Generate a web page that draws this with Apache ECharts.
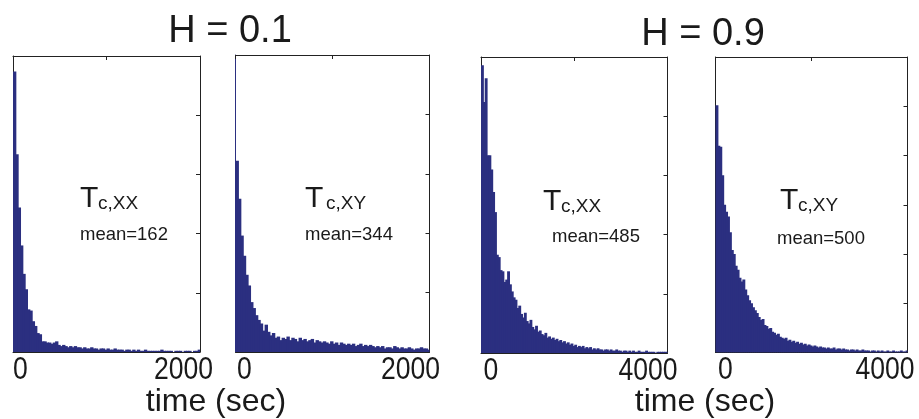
<!DOCTYPE html>
<html>
<head>
<meta charset="utf-8">
<script src="https://cdn.jsdelivr.net/npm/echarts@6/dist/echarts.min.js"></script>
<style>
html,body{margin:0;padding:0;background:#fff;}
#c{width:919px;height:419px;}
</style>
</head>
<body>
<div id="c"></div>
<script>
// ---------- data ----------
const groupTitles = ['H = 0.1', 'H = 0.9'];
const axisTitle = 'time (sec)';
const panelSub = ['c,XX', 'c,XY', 'c,XX', 'c,XY'];
const panelMean = ['mean=162', 'mean=344', 'mean=485', 'mean=500'];
const xMax = [2000, 2000, 4000, 4000];
const binWidth = [25, 25, 40, 40];
const yMax = [250, 250, 250, 300];
const yInterval = 50;
const xTickLabels12 = ['0', '', '2000'];
const xTickLabels34 = ['0', '', '4000'];

// histogram counts (H=0.1, Tc,XX), 25 s bins
const countsA = [237,167,122,90,66,53,36,35,26,22,16,15,9,9,8,8,7,8,9,6,
  5,6,5,4,5,4,5,4,4,3, 4,3,3,4,3,3,2,3,3,2, 3,2,2,3,2,2,2,1,2,2,
  1,2,1,2,1,1,2,1,1,1, 1,1,1,2,1,1,1,1,0,1, 1,1,0,1,1,1,0,1,1,2];
// (H=0.1, Tc,XY), 25 s bins
const countsB = [161,129,98,81,65,56,42,37,31,27,24,18,23,17,14,16,12,13,10,12,
  11,13,10,12,11,9,12,10,11,9,10,11,8,10,9,8,
  9,8,7,9,7,8,6,8,7,6,7,6,7,5,6,7,5,6,5,6,
  5,4,5,4,5,3,4,4,3,5,4,3,4,3,3,4,3,2,3,3,4,3,3,2];
// (H=0.9, Tc,XX), 40 s bins
const countsC = [243,212,232,167,167,155,136,119,83,81,70,69,60,62,69,58,52,47,45,38,
  40,33,30,34,27,25,28,22,20,23,18,19,16,15,17,13,14,12,13,11,
  12,10,11,9,10,8,9,7,8,6,7,5,6,5,6,4,5,4,5,3,
  4,3,4,3,3,2,3,3,2,3,2,2,3,2,2,1,2,2,1,2,
  1,2,1,1,2,1,1,1,2,1,1,1,1,0,1,1,1,1,1,1];
// (H=0.9, Tc,XY), 40 s bins
const countsD = [251,210,209,180,150,143,138,122,104,100,88,84,76,72,74,64,58,53,50,46,
  43,40,36,33,34,28,27,24,25,21,20,18,19,16,15,14,15,12,13,11,
  12,10,11,9,10,8,9,7,8,7,6,7,6,5,6,5,5,4,5,4,
  4,5,3,4,4,3,4,3,3,2,3,3,2,3,2,2,3,2,2,2,
  1,2,2,1,2,1,2,1,1,2,1,1,2,1,1,1,2,1,1,2];

const allCounts = [countsA, countsB, countsC, countsD];
const allTickLabels = [xTickLabels12, xTickLabels12, xTickLabels34, xTickLabels34];

// ---------- layout / style ----------
const grids = [
  {left: 13, top: 56, width: 187, height: 296},
  {left: 235.5, top: 55, width: 194, height: 297},
  {left: 481, top: 57, width: 186.5, height: 296},
  {left: 715.5, top: 57, width: 192, height: 295.5}
];
// horizontal nudges of first / last tick label relative to the axis ends
const labelNudge = [[0, 13], [1.5, 10.5], [2.5, 10], [2.5, 7]];
const leftLineColor = ['#222', '#2b2f80', '#222', '#222'];
const barColor = '#2b2f80';
const ink = '#1a1a1a';
const FONT = '"Liberation Sans", Arial, sans-serif';

const chart = echarts.init(document.getElementById('c'), null, {renderer: 'canvas'});

const xAxis = [], yAxis = [], series = [];
grids.forEach((g, i) => {
  g.outerBoundsMode = 'none';
  g.containLabel = false;
  const xi = xMax[i] / 2;
  xAxis.push({
    gridIndex: i, type: 'value', position: 'bottom', min: 0, max: xMax[i], interval: xi,
    axisLine: {show: true, onZero: false, lineStyle: {color: '#222', width: 1}},
    axisTick: {show: false},
    splitLine: {show: false},
    axisLabel: {show: false}
  });
  xAxis.push({
    gridIndex: i, type: 'value', position: 'top', min: 0, max: xMax[i], interval: xi,
    axisLine: {show: true, onZero: false, lineStyle: {color: '#222', width: 1}},
    axisTick: {show: true, inside: true, length: 4, lineStyle: {color: '#222'}},
    axisLabel: {show: false}, splitLine: {show: false}
  });
  yAxis.push({
    gridIndex: i, type: 'value', position: 'left', min: 0, max: yMax[i], interval: yInterval,
    axisLine: {show: true, onZero: false, lineStyle: {color: leftLineColor[i], width: 1}},
    axisTick: {show: false}, axisLabel: {show: false}, splitLine: {show: false}
  });
  yAxis.push({
    gridIndex: i, type: 'value', position: 'right', min: 0, max: yMax[i], interval: yInterval,
    axisLine: {show: true, onZero: false, lineStyle: {color: '#222', width: 1}},
    axisTick: {show: true, inside: true, length: 4, lineStyle: {color: '#222'}},
    axisLabel: {show: false}, splitLine: {show: false}
  });
  const bw = binWidth[i];
  series.push({
    type: 'custom',
    xAxisIndex: i * 2, yAxisIndex: i * 2,
    clip: true,
    encode: {x: [0, 1], y: 2},
    data: allCounts[i].map((c, k) => [k * bw, (k + 1) * bw, c]),
    renderItem: function (params, api) {
      const p0 = api.coord([api.value(0), api.value(2)]);
      const p1 = api.coord([api.value(1), 0]);
      const last = api.value(1) >= xMax[i];
      return {
        type: 'rect',
        shape: {x: p0[0], y: p0[1], width: p1[0] - p0[0] + (last ? 0 : 1), height: p1[1] - p0[1]},
        style: {fill: barColor}
      };
    }
  });
});

function buildGraphic() {
  const tPos = [[80, 199, 98, 235], [305, 199, 326, 235], [543, 202, 561, 236.5], [780, 201, 798, 238.5]];
  const meanX = [80, 305, 552, 777];
  const g = [
    {type: 'text', x: 230, y: 32, style: {text: groupTitles[0], font: '38px ' + FONT, fill: ink, align: 'center', verticalAlign: 'middle'}},
    {type: 'text', x: 703, y: 35, style: {text: groupTitles[1], font: '38px ' + FONT, fill: ink, align: 'center', verticalAlign: 'middle'}},
    {type: 'text', x: 216, y: 402, style: {text: axisTitle, font: '32px ' + FONT, fill: ink, align: 'center', verticalAlign: 'middle'}},
    {type: 'text', x: 705, y: 402, style: {text: axisTitle, font: '32px ' + FONT, fill: ink, align: 'center', verticalAlign: 'middle'}}
  ];
  tPos.forEach((p, i) => {
    g.push({type: 'text', x: p[0], y: p[1], style: {text: 'T', font: '30px ' + FONT, fill: ink, align: 'left', verticalAlign: 'middle'}});
    g.push({type: 'text', x: p[2], y: p[1] + 4.5, style: {text: panelSub[i], font: '19px ' + FONT, fill: ink, align: 'left', verticalAlign: 'middle'}});
    g.push({type: 'text', x: meanX[i], y: p[3], style: {text: panelMean[i], font: '18.5px ' + FONT, fill: ink, align: 'left', verticalAlign: 'middle'}});
  });
  // condensed tick labels placed through the axis scale
  grids.forEach((gr, i) => {
    const labels = allTickLabels[i];
    const xi = xMax[i] / 2;
    labels.forEach((lab, k) => {
      if (!lab) return;
      const v = k * xi;
      const px = chart.convertToPixel({xAxisIndex: i * 2}, v);
      const py = chart.convertToPixel({yAxisIndex: i * 2}, 0) + 18;
      const isLast = k === labels.length - 1;
      g.push({
        type: 'text', x: px + (isLast ? labelNudge[i][1] : labelNudge[i][0]), y: py,
        scaleX: 0.83,
        style: {text: lab, font: '32px ' + FONT, fill: ink, align: isLast ? 'right' : 'left', verticalAlign: 'middle'}
      });
    });
  });
  return g;
}

chart.setOption({
  animation: false,
  backgroundColor: '#fff',
  grid: grids,
  xAxis: xAxis,
  yAxis: yAxis,
  series: series
});
chart.setOption({graphic: buildGraphic()});
</script>
</body>
</html>
